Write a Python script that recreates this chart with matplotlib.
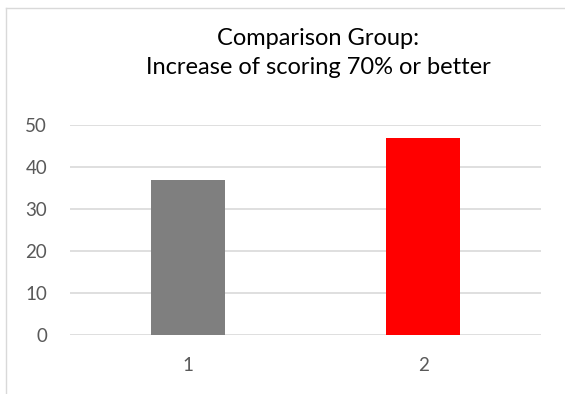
import matplotlib
matplotlib.use('Agg')
import matplotlib.pyplot as plt
from matplotlib.lines import Line2D

categories = ['1', '2']
values = [37, 47]
bar_colors = ['#7f7f7f', '#ff0000']
yticks = [0, 10, 20, 30, 40, 50]
title = 'Comparison Group:\nIncrease of scoring 70% or better'

W, H = 565, 394
fig = plt.figure(figsize=(W / 100, H / 100), dpi=100)
plt.rcParams['font.family'] = ['Lato', 'DejaVu Sans']

# chart border (cut off at right and bottom in the reference)
fig.add_artist(Line2D([5.5 / W, 5.5 / W], [0, 1 - 7.5 / H], transform=fig.transFigure,
                      color='#d9d9d9', lw=1))
fig.add_artist(Line2D([5.5 / W, 1], [1 - 7.5 / H, 1 - 7.5 / H], transform=fig.transFigure,
                      color='#d9d9d9', lw=1))

ax = fig.add_axes([70 / W, (H - 335) / H, (541 - 70) / W, (335 - 125) / H])
x = range(len(categories))
ax.bar(x, values, width=0.314, color=bar_colors, zorder=3)
ax.set_xlim(-0.5, 1.5)
ax.set_ylim(0, 50)
ax.set_yticks(yticks)
ax.set_xticks(list(x))
ax.set_xticklabels(categories)
ax.grid(axis='y', color='#d9d9d9', lw=1.2, zorder=0)
for s in ax.spines.values():
    s.set_visible(False)
ax.tick_params(length=0, labelsize=13.5, labelcolor='#595959')
ax.tick_params(axis='y', pad=16.5)
ax.tick_params(axis='x', pad=16)

fig.text(318 / W, 1 - 53 / H, title, ha='center', va='center', fontsize=17,
         color='#000000', linespacing=1.5)

fig.savefig('out.png', dpi=100, facecolor='white')
